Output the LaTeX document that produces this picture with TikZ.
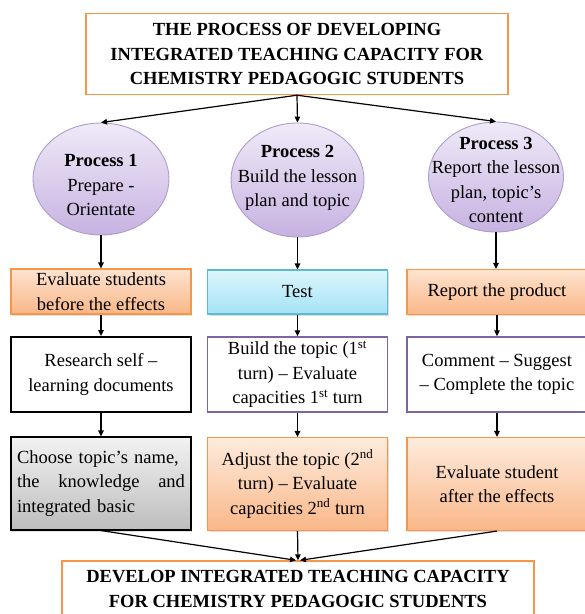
\documentclass[tikz,border=0pt]{standalone}
\usepackage{fontspec}
\setmainfont{Liberation Serif}
\usetikzlibrary{shapes.geometric,arrows.meta,shadows}
\definecolor{orangeB}{HTML}{F79646}
\definecolor{peachT}{HTML}{FDE3CF}
\definecolor{peachB}{HTML}{F9B788}
\definecolor{cyanT}{HTML}{DDF6FC}
\definecolor{cyanB}{HTML}{A3E3F6}
\definecolor{cyanD}{HTML}{5FB9D2}
\definecolor{grayT}{HTML}{F2F2F2}
\definecolor{grayB}{HTML}{BDBDBD}
\definecolor{lavT}{HTML}{F0EAF8}
\definecolor{lavB}{HTML}{C6B2E1}
\definecolor{lavD}{HTML}{AE9CCB}
\definecolor{purpD}{HTML}{8064A2}
\begin{document}
\begin{tikzpicture}[x=1pt,y=-1pt,
  every node/.style={font=\fontsize{18.5}{24.5}\selectfont, align=center, inner sep=0pt},
  boxbase/.style={rectangle, minimum width=180pt, line width=1.1pt},
  shad/.style={drop shadow={opacity=0.25, shadow xshift=1pt, shadow yshift=-1.5pt}},
  titlebox/.style={rectangle, draw=orangeB, line width=1.4pt, fill=white},
  orangebox/.style={boxbase, draw=orangeB, top color=peachT, bottom color=peachB, shad},
  cyanbox/.style={boxbase, draw=cyanD, top color=cyanT, bottom color=cyanB, shad},
  graybox/.style={boxbase, draw=black, top color=grayT, bottom color=grayB, shad},
  blackbox/.style={boxbase, draw=black, line width=2pt, fill=white},
  purplebox/.style={boxbase, draw=purpD, line width=1.4pt, fill=white},
  procell/.style={ellipse, draw=lavD, line width=0.9pt, top color=lavT, bottom color=lavB},
  conn/.style={line width=1.2pt, -{Triangle[length=6pt,width=5.5pt]}}
]
\useasboundingbox (0,0) rectangle (585,614);
\clip (0,0) rectangle (585,614);

% title
\node[titlebox, minimum width=422pt, minimum height=81pt] (top) at (297,54)
  {\textbf{THE PROCESS OF DEVELOPING}\\\textbf{INTEGRATED TEACHING CAPACITY FOR}\\\textbf{CHEMISTRY PEDAGOGIC STUDENTS}};

% ellipses
\node[procell, minimum width=136pt, minimum height=112pt] (p1) at (101,179) {};
\node[procell, minimum width=133pt, minimum height=114pt] (p2) at (297.5,180) {};
\node[procell, minimum width=135pt, minimum height=110pt] (p3) at (496,177) {};
\node (p1t) at (101,185) {\textbf{Process 1}\\Prepare -\\Orientate};
\node (p2t) at (297.5,178) {\textbf{Process 2}\\Build the lesson\\plan and topic};
\node (p3t) at (496,180) {\textbf{Process 3}\\Report the lesson\\plan, topic’s\\content};

% row 1
\node[orangebox, minimum height=45pt] (a1) at (101,291.5) {Evaluate students\\before the effects};
\node[cyanbox, minimum height=44pt] (a2) at (297.5,292) {Test};
\node[orangebox, minimum height=45pt] (a3) at (497,292) {Report the product};

% row 2
\node[blackbox, minimum height=75pt] (b1) at (101,374.5) {Research self –\\learning documents};
\node[purplebox, minimum height=75pt] (b2) at (297.5,374.5) {Build the topic (1\textsuperscript{st}\\turn) – Evaluate\\capacities 1\textsuperscript{st} turn};
\node[purplebox, minimum height=75pt] (b3) at (497,374.5) {Comment – Suggest\\– Complete the topic};

% row 3
\node[graybox, minimum height=93pt, text width=168pt, align=left] (c1) at (101,483.5)
  {\leavevmode\hbox{Choose topic’s name,}\\\leavevmode\hbox to 168pt{the\hfill knowledge\hfill and}\\integrated basic};
\node[orangebox, minimum height=93pt, top color=peachT!70!white] (c2) at (297.5,484) {Adjust the topic (2\textsuperscript{nd}\\turn) – Evaluate\\capacities 2\textsuperscript{nd} turn};
\node[orangebox, minimum height=93pt, top color=peachT!70!white] (c3) at (497,484) {Evaluate student\\after the effects};

% bottom
\node[titlebox, minimum width=472pt, minimum height=56pt] (bot) at (298,589)
  {\textbf{DEVELOP INTEGRATED TEACHING CAPACITY}\\\textbf{FOR CHEMISTRY PEDAGOGIC STUDENTS}};

% connectors
\draw[conn] (top.south) -- (p1.north);
\draw[conn] (top.south) -- (p2.north);
\draw[conn] (top.south) -- (p3.north);
\draw[conn] (p1.south) -- (a1.north);
\draw[conn] (p2.south) -- (a2.north);
\draw[conn] (p3.south) -- (p3.south |- a3.north);
\draw[conn] (a1.south) -- (b1.north);
\draw[conn] (a2.south) -- (b2.north);
\draw[conn] (a3.south) -- (b3.north);
\draw[conn] (b1.south) -- (c1.north);
\draw[conn] (b2.south) -- (c2.north);
\draw[conn] (b3.south) -- (c3.north);
\draw[conn] (c1.south) -- ([xshift=-2pt]bot.north);
\draw[conn] (c2.south) -- (bot.north);
\draw[conn] (c3.south) -- ([xshift=2pt]bot.north);
\end{tikzpicture}
\end{document}
